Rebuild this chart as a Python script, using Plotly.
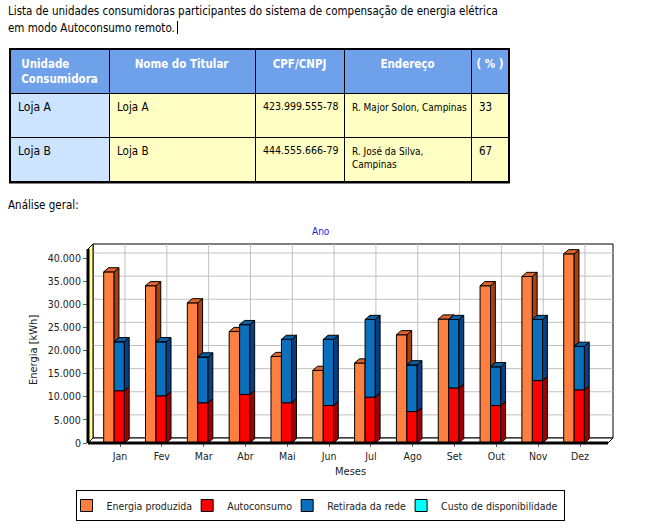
import plotly.graph_objects as go

# ---------------- data ----------------
months = ["Jan", "Fev", "Mar", "Abr", "Mai", "Jun", "Jul", "Ago", "Set", "Out", "Nov", "Dez"]
energia_produzida = [37000, 34000, 30300, 24100, 18700, 15700, 17300, 23400, 26800, 34000, 36000, 40900]
autoconsumo = [11300, 10200, 8700, 10500, 8700, 8100, 9900, 6800, 11900, 8100, 13500, 11500]
retirada_rede = [10600, 11700, 9900, 15100, 13700, 14300, 16800, 10100, 14800, 8400, 13200, 9400]
custo_disponibilidade = [0, 0, 0, 0, 0, 0, 0, 0, 0, 0, 0, 0]
y_ticks = [0, 5000, 10000, 15000, 20000, 25000, 30000, 35000, 40000]

NB = "\u00a0"
table_header = ["<b>Unidade<br>Consumidora</b>", "<b>Nome do Titular</b>", "<b>CPF/CNPJ</b>",
                "<b>Endereço</b>", "<b>(" + NB + "%" + NB + ")</b>"]
col_unidade = ["Loja A", "Loja B"]
col_titular = ["Loja A", "Loja B"]
col_cpf = ["423.999.555-78", "444.555.666-79"]
col_endereco = ["<br>R. Major Solon, Campinas", "R. José da Silva,<br>Campinas"]
col_pct = ["33", "67"]

# ---------------- style ----------------
FONT = "DejaVu Sans Condensed, DejaVu Sans, sans-serif"
W, H = 660, 532
C_OR, C_OR_TOP, C_OR_SIDE = "#ff7f40", "#e0642a", "#a8400f"
C_RED, C_RED_SIDE = "#ff0000", "#a00000"
C_BLUE, C_BLUE_TOP, C_BLUE_SIDE = "#0a70bd", "#0861a3", "#083f80"
C_CYAN = "#00ffff"

# pixel geometry of chart (front plane)
PX_L, PX_R, PX_B, PX_T = 88, 617, 443, 240
PX_PER_CAT = 41.82
PX_CAT0 = 120
PX_PER_K = 4.625  # px per 1000 kWh


def xd(px):
    return (px - PX_CAT0) / PX_PER_CAT


def yd(py):
    return (PX_B - py) / PX_PER_K * 1000


XL = xd(PX_L)
XR = xd(608)
XRANGE = [XL, xd(PX_R)]
YRANGE = [0, yd(PX_T)]
DXW, DYW = 5 / PX_PER_CAT, 5 / PX_PER_K * 1000   # wall depth
YTOPB = yd(244)
DX, DY = 0.115, 900                                 # bar depth

OFF_O, W_O = -0.39, 0.25
OFF_S, W_S = -0.14, 0.245

idx = list(range(len(months)))

fig = go.Figure()

# ---------------- table ----------------
fig.add_trace(go.Table(
    domain=dict(x=[10 / W, 509 / W], y=[1 - 190 / H, 1 - 49 / H]),
    columnwidth=[99, 146, 89, 127, 38],
    header=dict(values=table_header, fill_color="#6fa0ea", align="center",
                font=dict(family=FONT, size=11.5, color="white"), height=43,
                line=dict(color="black", width=1)),
    cells=dict(values=[col_unidade, col_titular, col_cpf, col_endereco, col_pct],
               fill_color=[["#cce4ff"] * 2, ["#ffffc4"] * 2, ["#ffffc4"] * 2,
                           ["#ffffc4"] * 2, ["#ffffc4"] * 2],
               align="left", font=dict(family=FONT, size=[12, 11.5, 10.5, 10, 11.5], color="black"),
               height=44, line=dict(color="black", width=1)),
))

# ---------------- bars (front faces) ----------------
stack_top = [a + r + c for a, r, c in zip(autoconsumo, retirada_rede, custo_disponibilidade)]
red_top = [a + r for a, r in zip(autoconsumo, retirada_rede)]

fig.add_trace(go.Bar(x=idx, y=energia_produzida, offset=OFF_O, width=W_O, name="Energia produzida",
                     marker=dict(color=C_OR, line=dict(color="black", width=1)), hoverinfo="y"))
fig.add_trace(go.Bar(x=idx, y=autoconsumo, offset=OFF_S, width=W_S, name="Autoconsumo",
                     marker=dict(color=C_RED, line=dict(color="black", width=1)), hoverinfo="y"))
fig.add_trace(go.Bar(x=idx, y=retirada_rede, base=autoconsumo, offset=OFF_S, width=W_S,
                     name="Retirada da rede",
                     marker=dict(color=C_BLUE, line=dict(color="black", width=1)), hoverinfo="y"))
fig.add_trace(go.Bar(x=idx, y=custo_disponibilidade, base=red_top, offset=OFF_S, width=W_S,
                     name="Custo de disponibilidade",
                     marker=dict(color=C_CYAN, line=dict(color="black", width=1)), hoverinfo="y"))

# ---------------- 3D faces ----------------
def poly_trace(polys, color):
    xs, ys = [], []
    for p in polys:
        for (a, b) in p:
            xs.append(a)
            ys.append(b)
        xs.append(None)
        ys.append(None)
    return go.Scatter(x=xs, y=ys, mode="lines", fill="toself", fillcolor=color,
                      line=dict(color="black", width=1), showlegend=False, hoverinfo="skip")


def side(x1, lo, hi):
    return [(x1, lo), (x1 + DX, lo + DY), (x1 + DX, hi + DY), (x1, hi), (x1, lo)]


def top(x0, x1, t, clip=False):
    if clip:
        return [(x0, t), (x1, t), (x1, t + DY), (x0 + DX, t + DY), (x0, t)]
    return [(x0, t), (x1, t), (x1 + DX, t + DY), (x0 + DX, t + DY), (x0, t)]


or_top, or_side, red_side, blue_side, blue_top = [], [], [], [], []
for i in idx:
    x0 = i + OFF_O
    x1 = x0 + W_O
    t = energia_produzida[i]
    t2 = stack_top[i]
    or_top.append(top(x0, x1, t, clip=t < t2))
    if t > t2:
        or_side.append(side(x1, t2, t))
    s0 = i + OFF_S
    s1 = s0 + W_S
    red_side.append(side(s1, 0, autoconsumo[i]))
    blue_side.append(side(s1, autoconsumo[i], red_top[i]))
    blue_top.append(top(s0, s1, red_top[i]))

fig.add_trace(poly_trace(or_side, C_OR_SIDE))
fig.add_trace(poly_trace(or_top, C_OR_TOP))
fig.add_trace(poly_trace(red_side, C_RED_SIDE))
fig.add_trace(poly_trace(blue_side, C_BLUE_SIDE))
fig.add_trace(poly_trace(blue_top, C_BLUE_TOP))

# ---------------- walls / grid ----------------
shapes = []
shapes.append(dict(type="rect", xref="x", yref="y", x0=XL + DXW, x1=XR + DXW, y0=DYW, y1=YTOPB,
                   fillcolor="white", line=dict(color="black", width=1), layer="below"))
for v in y_ticks[1:]:
    shapes.append(dict(type="line", xref="x", yref="y", x0=XL + DXW, x1=XR + DXW, y0=v + DYW, y1=v + DYW,
                       line=dict(color="#c0c0c0", width=1), layer="below"))
for i in idx:
    shapes.append(dict(type="line", xref="x", yref="y", x0=i + DXW, x1=i + DXW, y0=DYW, y1=YTOPB,
                       line=dict(color="#c0c0c0", width=1), layer="below"))
shapes.append(dict(type="path", xref="x", yref="y", layer="below",
                   path=f"M{XL},0 L{XR},0 L{XR + DXW},{DYW} L{XL + DXW},{DYW} Z",
                   fillcolor="white", line=dict(color="black", width=1)))
shapes.append(dict(type="path", xref="x", yref="y", layer="below",
                   path=f"M{XL},0 L{XL + DXW},{DYW} L{XL + DXW},{YTOPB} L{XL},{YTOPB - DYW} Z",
                   fillcolor="#ffff99", line=dict(color="black", width=1)))
# thick front edges (paper coords)
shapes.append(dict(type="line", xref="paper", yref="paper", x0=PX_L / W, x1=608 / W,
                   y0=1 - PX_B / H, y1=1 - PX_B / H, line=dict(color="black", width=3)))
shapes.append(dict(type="line", xref="paper", yref="paper", x0=PX_L / W, x1=PX_L / W,
                   y0=1 - PX_B / H, y1=1 - 249 / H, line=dict(color="black", width=3)))
# table outer border
shapes.append(dict(type="rect", xref="paper", yref="paper", x0=10 / W, x1=509 / W,
                   y0=1 - 182.5 / H, y1=1 - 49 / H, line=dict(color="black", width=2),
                   fillcolor="rgba(0,0,0,0)", layer="above"))
# text caret
shapes.append(dict(type="line", xref="paper", yref="paper", x0=177.5 / W, x1=177.5 / W,
                   y0=1 - 34 / H, y1=1 - 21 / H, line=dict(color="black", width=1)))

TXT = dict(family=FONT, size=11.5, color="black")
annotations = [
    dict(text="Lista de unidades consumidoras participantes do sistema de compensação de energia elétrica",
         x=6 / W, y=1 - 10.5 / H, xref="paper", yref="paper", xanchor="left", yanchor="middle",
         showarrow=False, font=TXT),
    dict(text="em modo Autoconsumo remoto.",
         x=6 / W, y=1 - 28 / H, xref="paper", yref="paper", xanchor="left", yanchor="middle",
         showarrow=False, font=TXT),
    dict(text="Análise geral:", x=6 / W, y=1 - 205 / H, xref="paper", yref="paper", xanchor="left",
         yanchor="middle", showarrow=False, font=TXT),
    dict(text="Ano", x=321 / W, y=1 - 231 / H, xref="paper", yref="paper", xanchor="center",
         yanchor="middle", showarrow=False, font=dict(family=FONT, size=10, color="#2020d0")),
    dict(text="Energia [kWh]", x=33 / W, y=1 - 350 / H, xref="paper", yref="paper", textangle=-90,
         xanchor="center", yanchor="middle", showarrow=False, font=dict(family=FONT, size=11, color="#222")),
    dict(text="Meses", x=350 / W, y=1 - 471 / H, xref="paper", yref="paper", xanchor="center",
         yanchor="middle", showarrow=False, font=dict(family=FONT, size=11, color="#222")),
]

fig.update_layout(
    width=W, height=H, margin=dict(l=0, r=0, t=0, b=0),
    paper_bgcolor="white", plot_bgcolor="rgba(0,0,0,0)",
    barmode="overlay", separators=",.",
    font=dict(family=FONT, size=10.5, color="#222"),
    shapes=shapes, annotations=annotations,
    xaxis=dict(domain=[PX_L / W, PX_R / W], range=XRANGE, tickvals=idx, ticktext=months,
               showgrid=False, zeroline=False, showline=False, ticks="outside", ticklen=3,
               tickcolor="#666", automargin=False, tickfont=dict(size=10.5, color="#222")),
    yaxis=dict(domain=[1 - PX_B / H, 1 - PX_T / H], range=YRANGE, tickvals=y_ticks, tickformat=",d",
               showgrid=False, zeroline=False, showline=False, ticks="outside", ticklen=4,
               tickcolor="#666", automargin=False, tickfont=dict(size=10.5, color="#222")),
    legend=dict(orientation="h", x=320 / W, y=1 - 490 / H, xanchor="center", yanchor="top",
                bordercolor="black", borderwidth=1, bgcolor="white", indentation=-10,
                font=dict(family=FONT, size=10.5, color="#222"), itemwidth=30, traceorder="normal"),
    showlegend=True,
)

fig.write_html("out.html", config={"displayModeBar": False},
               post_script="document.body.style.margin='0px';")
